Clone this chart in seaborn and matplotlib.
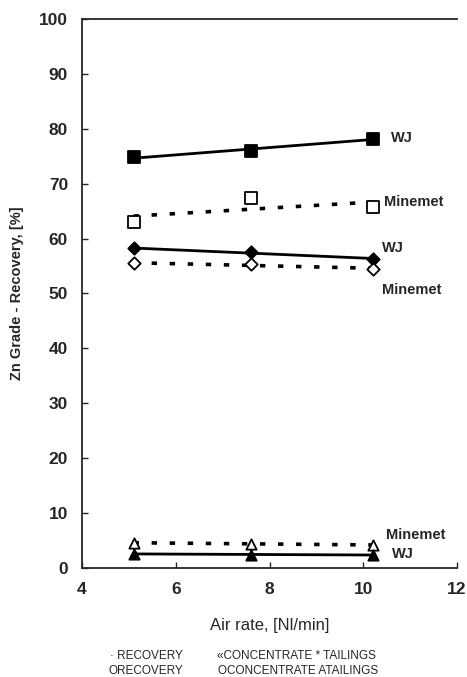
import matplotlib
matplotlib.use('Agg')
import matplotlib.pyplot as plt
import seaborn as sns

# air rate, Nl/min
air = [5.1, 7.6, 10.2]

# Zn grade / recovery, %
wj_conc = [74.8, 76.0, 78.2]
mm_conc = [63.1, 67.3, 65.7]
wj_rec = [58.2, 57.5, 56.3]
mm_rec = [55.5, 55.3, 54.5]
mm_tail = [4.6, 4.4, 4.2]
wj_tail = [2.6, 2.4, 2.4]

sns.set_style('ticks')
plt.rcParams['font.family'] = ['Liberation Sans', 'DejaVu Sans']

fig = plt.figure(figsize=(4.67, 6.77), dpi=100)
ax = fig.add_axes([0.1756, 0.161, 0.803, 0.811])

dotted = (0, (1.5, 3.5))
series = [
    (wj_conc, 's', True, '-', 70),
    (mm_conc, 's', False, dotted, 70),
    (wj_rec, 'D', True, '-', 40),
    (mm_rec, 'D', False, dotted, 40),
    (mm_tail, '^', False, dotted, 55),
    (wj_tail, '^', True, '-', 55),
]
for vals, mk, filled, ls, size in series:
    sns.regplot(x=air, y=vals, ax=ax, ci=None, color='black', marker=mk,
                scatter_kws={'s': size, 'facecolors': 'black' if filled else 'white',
                             'edgecolors': 'black', 'linewidths': 1.3, 'zorder': 3,
                             'alpha': 1},
                line_kws={'lw': 2.0 if ls == '-' else 2.6, 'ls': ls, 'zorder': 2})

# series labels at right
labels = [
    (10.59, 78.4, 'WJ'),
    (10.44, 66.6, 'Minemet'),
    (10.41, 58.3, 'WJ'),
    (10.39, 50.6, 'Minemet'),
    (10.48, 6.0, 'Minemet'),
    (10.62, 2.6, 'WJ'),
]
for x, y, t in labels:
    ax.text(x, y, t, fontsize=10.5, fontweight='bold', va='center', ha='left')

ax.set_xlim(4, 12)
ax.set_ylim(0, 100)
ax.set_xticks([4, 6, 8, 10, 12])
ax.set_yticks(range(0, 101, 10))
ax.tick_params(direction='in', length=4, width=1, pad=10, labelsize=12.5)
for lab in ax.get_xticklabels() + ax.get_yticklabels():
    lab.set_fontweight('bold')

for side in ['left', 'bottom', 'top']:
    ax.spines[side].set_linewidth(1.3)
ax.spines['right'].set_visible(False)

ax.set_xlabel('Air rate, [Nl/min]', fontsize=12, labelpad=15)
ax.set_ylabel('Zn Grade - Recovery, [%]', fontsize=10.5, fontweight='bold', labelpad=11)

# legend text below the plot
fig.text(0.236, 0.031, '· RECOVERY', fontsize=8.5, va='center')
fig.text(0.464, 0.031, '«CONCENTRATE * TAILINGS', fontsize=8.5, va='center')
fig.text(0.233, 0.009, 'ORECOVERY', fontsize=8.5, va='center')
fig.text(0.467, 0.009, 'OCONCENTRATE ATAILINGS', fontsize=8.5, va='center')

fig.savefig('out.png', dpi=100)
